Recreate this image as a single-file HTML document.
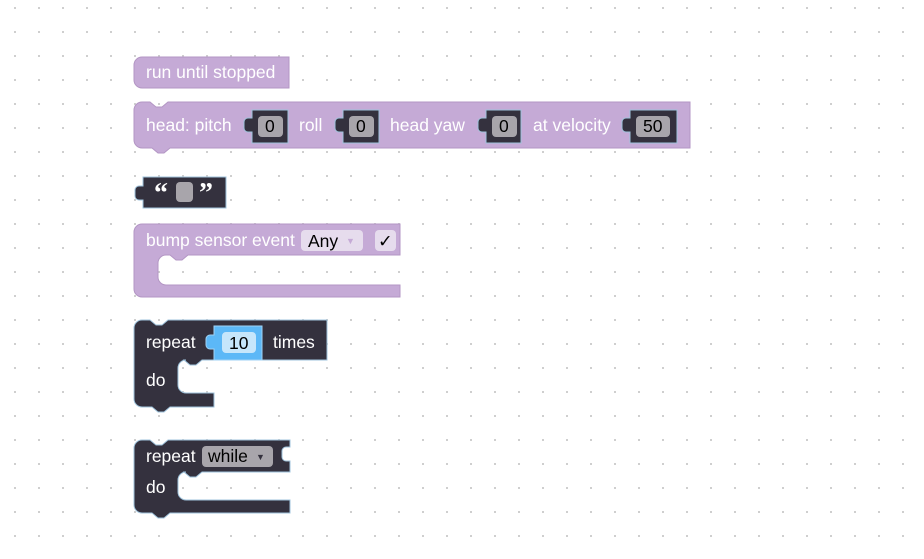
<!DOCTYPE html>
<html><head><meta charset="utf-8"><style>
html,body{margin:0;padding:0;background:#fff;width:924px;height:559px;overflow:hidden}
svg{display:block}
text{font-family:"Liberation Sans",Arial,sans-serif;font-size:17.5px}
.w{fill:#fff}.k{fill:#000}
</style></head><body>
<svg width="924" height="559" viewBox="0 0 924 559" xmlns="http://www.w3.org/2000/svg">
<defs>
<pattern id="g" x="14" y="7" width="24" height="24" patternUnits="userSpaceOnUse">
<rect x="0" y="0" width="2" height="2" fill="#cfcfcf"/>
</pattern>
</defs>
<rect width="924" height="559" fill="url(#g)"/>

<path d="M134,65 a8,8 0 0 1 8,-8 H289 V88 H142 a8,8 0 0 1 -8,-8 Z" fill="#c5aad6" stroke="#b396c4" stroke-width="1"/>
<text x="146" y="78" class="w">run until stopped</text>

<path d="M134,110 a8,8 0 0 1 8,-8 H150 l6,5 h6 l6,-5 H690 V148 H170 l-6,5 h-6 l-6,-5 H142 a8,8 0 0 1 -8,-8 Z" fill="#c5aad6" stroke="#b396c4" stroke-width="1"/>
<text x="146" y="131" class="w">head: pitch</text>
<g>
<path d="M252,110 H288 V143 H252 V132 h-4 a4,4 0 0 1 -4,-4 v-6 a4,4 0 0 1 4,-4 h4 Z" fill="#34313e" stroke="#9fc3dc" stroke-width="1"/>
<rect x="258" y="116" width="25" height="21" rx="4" fill="#a8a5ab"/>
<text x="265" y="132" class="k">0</text>
</g>
<text x="299" y="131" class="w">roll</text>
<g>
<path d="M343,110 H379 V143 H343 V132 h-4 a4,4 0 0 1 -4,-4 v-6 a4,4 0 0 1 4,-4 h4 Z" fill="#34313e" stroke="#9fc3dc" stroke-width="1"/>
<rect x="349" y="116" width="25" height="21" rx="4" fill="#a8a5ab"/>
<text x="356" y="132" class="k">0</text>
</g>
<text x="390" y="131" class="w">head yaw</text>
<g>
<path d="M486,110 H521 V143 H486 V132 h-4 a4,4 0 0 1 -4,-4 v-6 a4,4 0 0 1 4,-4 h4 Z" fill="#34313e" stroke="#9fc3dc" stroke-width="1"/>
<rect x="492" y="116" width="25" height="21" rx="4" fill="#a8a5ab"/>
<text x="499" y="132" class="k">0</text>
</g>
<text x="533" y="131" class="w">at velocity</text>
<g>
<path d="M630,110 H677 V143 H630 V132 h-4 a4,4 0 0 1 -4,-4 v-6 a4,4 0 0 1 4,-4 h4 Z" fill="#34313e" stroke="#9fc3dc" stroke-width="1"/>
<rect x="636" y="116" width="34" height="21" rx="4" fill="#a8a5ab"/>
<text x="643" y="132" class="k">50</text>
</g>

<path d="M143,177 H226 V208 H143 V200 h-4 a4,4 0 0 1 -4,-4 v-6 a4,4 0 0 1 4,-4 h4 Z" fill="#34313e" stroke="#9fc3dc" stroke-width="1"/>
<text x="154" y="202" class="w" style="font-family:'Liberation Serif',serif;font-size:28px;font-weight:bold">“</text>
<rect x="176" y="182" width="17" height="20" rx="4" fill="#a8a5ab"/>
<text x="199" y="202" class="w" style="font-family:'Liberation Serif',serif;font-size:28px;font-weight:bold">”</text>

<path d="M134,232 a8,8 0 0 1 8,-8 H400 V255 H188 l-6,5 h-6 l-6,-5 H166 a8,8 0 0 0 -8,8 V277 a8,8 0 0 0 8,8 H400 V297 H142 a8,8 0 0 1 -8,-8 Z" fill="#c5aad6" stroke="#b396c4" stroke-width="1"/>
<text x="146" y="246" class="w">bump sensor event</text>
<rect x="301" y="230" width="62" height="21" rx="4" fill="#e6dced"/>
<text x="308" y="247" class="k">Any</text>
<text x="346" y="244" style="font-size:9px;fill:#c5aad6">▼</text>
<rect x="375" y="230" width="21" height="21" rx="4" fill="#e6dced"/>
<text x="378" y="247" class="k">✓</text>

<path d="M134,328 a8,8 0 0 1 8,-8 H150 l6,5 h6 l6,-5 H327 V360 H202 l-6,5 h-6 l-6,-5 H186 a8,8 0 0 0 -8,8 V385 a8,8 0 0 0 8,8 H214 V407 H170 l-6,5 h-6 l-6,-5 H142 a8,8 0 0 1 -8,-8 Z" fill="#34313e" stroke="#9fc3dc" stroke-width="1"/>
<text x="146" y="348" class="w">repeat</text>
<path d="M214,326 H262 V360 H214 V349 h-4 a4,4 0 0 1 -4,-4 v-6 a4,4 0 0 1 4,-4 h4 Z" fill="#5cb8f7" stroke="#9fd2f5" stroke-width="1"/>
<rect x="222" y="332" width="34" height="21" rx="4" fill="#c6e6fb"/>
<text x="229" y="349" class="k">10</text>
<text x="273" y="348" class="w">times</text>
<text x="146" y="386" class="w">do</text>

<path d="M134,448 a8,8 0 0 1 8,-8 H150 l6,5 h6 l6,-5 H290 V447 h-4 a4,4 0 0 0 -4,4 v6 a4,4 0 0 0 4,4 h4 V472 H202 l-6,5 h-6 l-6,-5 H186 a8,8 0 0 0 -8,8 V492 a8,8 0 0 0 8,8 H290 V513 H170 l-6,5 h-6 l-6,-5 H142 a8,8 0 0 1 -8,-8 Z" fill="#34313e" stroke="#9fc3dc" stroke-width="1"/>
<text x="146" y="462" class="w">repeat</text>
<rect x="202" y="446" width="71" height="21" rx="4" fill="#a8a5ab"/>
<text x="208" y="462" class="k">while</text>
<text x="256" y="460" style="font-size:9px;fill:#34313e">▼</text>
<text x="146" y="493" class="w">do</text>
</svg>
</body></html>
